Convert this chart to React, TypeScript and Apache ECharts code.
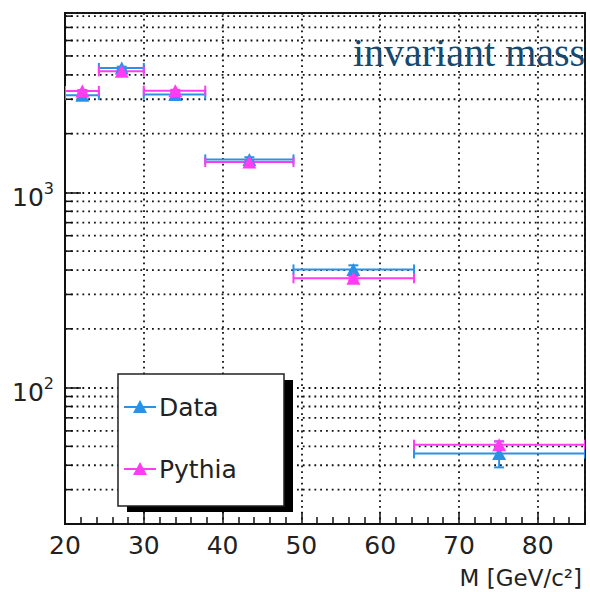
import React, { useEffect, useRef } from "react";
import * as echarts from "echarts";

// ---- data ----
const binCenters = [22.2, 27.2, 34.0, 43.4, 56.6, 75.1];
const binLow = [20, 24.3, 30, 37.8, 49, 64.3];
const binHigh = [24.3, 30, 37.8, 49, 64.3, 86];
const dataValues = [3150, 4340, 3170, 1476, 403, 46];
const dataErrors = [55, 65, 55, 38, 20, 7];
const pythiaValues = [3310, 4170, 3320, 1430, 363, 51];
const pythiaErrors = [35, 40, 35, 22, 9, 2];
const yMinorTicks = [20, 30, 40, 50, 60, 70, 80, 90, 200, 300, 400, 500, 600, 700, 800, 900, 2000, 3000, 4000, 5000, 6000, 7000, 8000];
const seriesNames = ["Data", "Pythia"];

const X_MIN = 20;
const X_MAX = 86;
const Y_MIN = 20;
const Y_MAX = 8300;

const BLUE = "#2a92e6";
const PINK = "#ff3cf2";
const FONT = "DejaVu Sans";
const GRID_DASH = [1.8, 4];

function errorBarSeries(name: string, values: number[], errs: number[], color: string) {
  const items = binCenters.map((c, i) => [c, binLow[i], binHigh[i], values[i], errs[i]]);
  return {
    name,
    type: "custom",
    z: 3,
    clip: true,
    data: items,
    encode: { x: 0, y: 3 },
    renderItem: (params: any, api: any) => {
      const x = api.value(0);
      const lo = api.value(1);
      const hi = api.value(2);
      const y = api.value(3);
      const e = api.value(4);
      const pL = api.coord([lo, y]);
      const pR = api.coord([hi, y]);
      const pU = api.coord([x, y + e]);
      const pD = api.coord([x, y - e]);
      const cap = 5;
      const st = { stroke: color, lineWidth: 2 };
      return {
        type: "group",
        children: [
          { type: "line", shape: { x1: pL[0], y1: pL[1], x2: pR[0], y2: pR[1] }, style: st },
          { type: "line", shape: { x1: pL[0], y1: pL[1] - cap, x2: pL[0], y2: pL[1] + cap }, style: st },
          { type: "line", shape: { x1: pR[0], y1: pR[1] - cap, x2: pR[0], y2: pR[1] + cap }, style: st },
          { type: "line", shape: { x1: pU[0], y1: pU[1], x2: pD[0], y2: pD[1] }, style: st },
          { type: "line", shape: { x1: pD[0] - cap, y1: pD[1], x2: pD[0] + cap, y2: pD[1] }, style: st },
          { type: "line", shape: { x1: pU[0] - cap, y1: pU[1], x2: pU[0] + cap, y2: pU[1] }, style: st },
        ],
      };
    },
  };
}

function markerSeries(name: string, values: number[], color: string, z: number) {
  return {
    name,
    type: "scatter",
    z,
    symbol: "triangle",
    symbolSize: [14, 13],
    itemStyle: { color, opacity: 1 },
    data: binCenters.map((c, i) => [c, values[i]]),
  };
}

function legendEntry(label: string, color: string, cy: number) {
  return [
    { type: "line", z: 102, shape: { x1: 124, y1: cy, x2: 156, y2: cy }, style: { stroke: color, lineWidth: 2 } },
    {
      type: "polygon",
      z: 103,
      shape: { points: [[140, cy - 7], [133, cy + 6], [147, cy + 6]] },
      style: { fill: color },
    },
    {
      type: "text",
      z: 103,
      x: 159,
      y: cy,
      style: { text: label, fill: "#222", font: `25px '${FONT}'`, verticalAlign: "middle", align: "left" },
    },
  ];
}

export default function App() {
  const ref = useRef<HTMLDivElement>(null);
  useEffect(() => {
    if (!ref.current) return;
    const chart = echarts.init(ref.current, undefined, { renderer: "svg" });
    const option: any = {
      animation: false,
      backgroundColor: "#ffffff",
      grid: {
        left: 65,
        right: 5,
        top: 13,
        bottom: 68,
        show: true,
        borderColor: "#1a1a1a",
        borderWidth: 2,
        backgroundColor: "transparent",
      },
      xAxis: {
        type: "value",
        min: X_MIN,
        max: X_MAX,
        interval: 10,
        axisLine: { show: true, lineStyle: { color: "#111", width: 2 } },
        axisTick: { show: true, inside: true, length: 12, lineStyle: { color: "#111", width: 1.5 } },
        minorTick: { show: true, splitNumber: 5, length: 7, lineStyle: { color: "#111", width: 1.5 } },
        splitLine: { show: true, lineStyle: { color: "#111", width: 1.8, type: GRID_DASH } },
        axisLabel: {
          show: true,
          showMaxLabel: false,
          margin: 9,
          fontSize: 25,
          fontFamily: FONT,
          color: "#222",
        },
      },
      yAxis: {
        type: "log",
        logBase: 10,
        min: Y_MIN,
        max: Y_MAX,
        axisLine: { show: true, lineStyle: { color: "#111", width: 2 } },
        axisTick: { show: true, inside: true, length: 16, lineStyle: { color: "#111", width: 1.5 } },
        splitLine: { show: true, lineStyle: { color: "#111", width: 1.8, type: GRID_DASH } },
        axisLabel: {
          show: true,
          showMinLabel: false,
          showMaxLabel: false,
          margin: 11,
          fontSize: 25,
          fontFamily: FONT,
          color: "#222",
          lineHeight: 34,
          padding: [10, 0, 0, 0],
          formatter: (v: number) => {
            const l = Math.log10(v);
            if (Math.abs(l - Math.round(l)) > 1e-6) return "";
            return "10{s|" + Math.round(l) + "}";
          },
          rich: {
            s: { fontSize: 16, fontFamily: FONT, color: "#222", lineHeight: 16, verticalAlign: "top" },
          },
        },
      },
      series: [
        {
          name: "yMinorGrid",
          type: "custom",
          z: 1,
          silent: true,
          data: yMinorTicks.map((v) => [X_MIN, v]),
          renderItem: (params: any, api: any) => {
            const p = api.coord([X_MIN, api.value(1)]);
            const left = params.coordSys.x;
            const right = params.coordSys.x + params.coordSys.width;
            return {
              type: "group",
              children: [
                {
                  type: "line",
                  shape: { x1: left, y1: p[1], x2: right, y2: p[1] },
                  style: { stroke: "#111", lineWidth: 1.8, lineDash: GRID_DASH },
                },
                {
                  type: "line",
                  shape: { x1: left, y1: p[1], x2: left + 8, y2: p[1] },
                  style: { stroke: "#111", lineWidth: 1.5 },
                },
              ],
            };
          },
        },
        errorBarSeries(seriesNames[0], dataValues, dataErrors, BLUE),
        markerSeries(seriesNames[0], dataValues, BLUE, 4),
        errorBarSeries(seriesNames[1], pythiaValues, pythiaErrors, PINK),
        markerSeries(seriesNames[1], pythiaValues, PINK, 6),
      ],
      graphic: [
        {
          type: "text",
          z: 100,
          x: 353,
          y: 52,
          style: {
            text: "invariant mass",
            fill: "#16496f",
            font: "40px 'Liberation Serif'",
            verticalAlign: "middle",
            align: "left",
          },
        },
        { type: "rect", z: 100, shape: { x: 127, y: 380, width: 166, height: 132 }, style: { fill: "#000" } },
        {
          type: "rect",
          z: 101,
          shape: { x: 118, y: 374, width: 166, height: 132 },
          style: { fill: "#fff", stroke: "#222", lineWidth: 1.5 },
        },
        ...legendEntry(seriesNames[0], BLUE, 407),
        ...legendEntry(seriesNames[1], PINK, 469),
        {
          type: "text",
          z: 100,
          x: 582,
          y: 578,
          style: {
            text: "M [GeV/c²]",
            fill: "#222",
            font: `23px '${FONT}'`,
            align: "right",
            verticalAlign: "middle",
          },
        },
      ],
    };
    chart.setOption(option);
    return () => chart.dispose();
  }, []);
  return (
    <div
      ref={ref}
      style={{ position: "absolute", left: 0, top: 0, width: 590, height: 592, background: "#fff" }}
    />
  );
}
